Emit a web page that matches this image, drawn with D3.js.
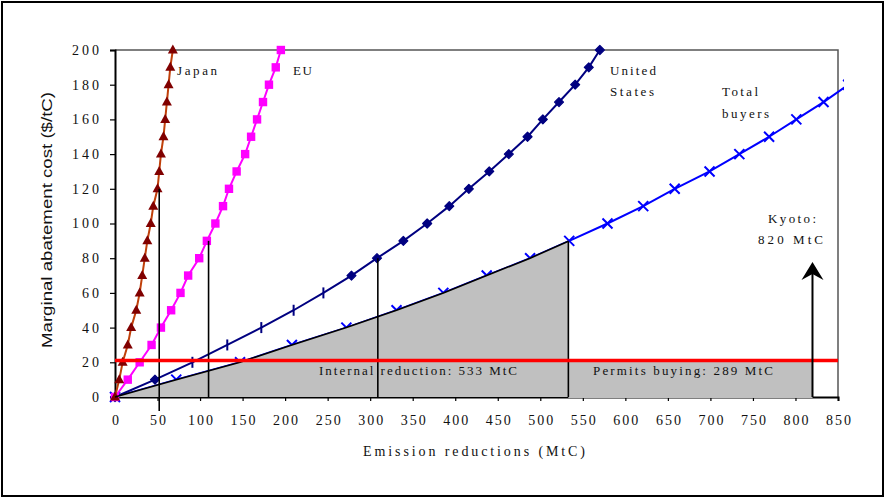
<!DOCTYPE html>
<html>
<head>
<meta charset="utf-8">
<script src="https://cdn.jsdelivr.net/npm/d3@7"></script>
<style>
  html, body { margin: 0; padding: 0; background: #fff; }
  svg { display: block; }
  .serif { font-family: "Liberation Serif", "Times New Roman", serif; fill: #111; }
</style>
</head>
<body>
<svg id="chart" width="885" height="503"></svg>
<script>
// Marginal abatement cost curves ($/tC) against emission reductions (MtC)
const costs = [0, 10, 20, 30, 40, 50, 60, 70, 80, 90, 100, 110, 120, 130, 140, 150, 160, 170, 180, 190, 200];
const japanMtC = [0, 5, 9, 15, 19, 25, 29, 32, 35, 38, 42, 45, 50, 52, 54, 57, 59, 61, 63, 65, 68];
const euMtC = [0, 15, 29, 43, 54, 66, 77, 86, 99, 108, 118, 127, 134, 143, 153, 160, 167, 174, 181, 189, 195];
const usMtC = [0, 47, 91, 132, 172, 210, 245, 278, 308, 339, 367, 393, 416, 440, 463, 485, 503, 522, 541, 557, 570];
const totalCosts = [0, 10, 20, 30, 40, 50, 60, 70, 80, 90, 100, 110, 120, 130, 140, 150, 160, 170, 180];
const totalMtC = [0, 72, 147, 208, 272, 331, 386, 437, 488, 534, 579, 621, 658, 699, 734, 769, 801, 833, 862];

// National reduction requirements without trading
const targetRegions = ["Japan", "EU", "United States"];
const targetMtC = [52, 110, 309];
const targetCost = [120, 90, 80];

// Kyoto commitment of buyers and permit market outcome
const kyotoMtC = 820;
const internalMtC = 533;
const permitsMtC = 289;
const permitPrice = 21;

const xTicks = d3.range(0, 851, 50);
const yTicks = d3.range(0, 201, 20);

const svg = d3.select("#chart");
const x = d3.scaleLinear().domain([0, 850]).range([115, 838]);
const y = d3.scaleLinear().domain([0, 200]).range([397, 50]);

// outer frame
svg.append("rect").attr("x", 2).attr("y", 2).attr("width", 881).attr("height", 494)
  .attr("fill", "none").attr("stroke", "#000").attr("stroke-width", 2);

// plot frame (top and right)
svg.append("path")
  .attr("d", `M${x(0)},${y(200)}H${x(850)}V${y(0)}`)
  .attr("fill", "none").attr("stroke", "#555").attr("stroke-width", 1.5);

// axes
const xAxis = svg.append("g").attr("transform", `translate(0,${y(0)})`)
  .call(d3.axisBottom(x).tickValues(xTicks).tickSize(4).tickPadding(14).tickFormat(d3.format("d")));
const yAxis = svg.append("g").attr("transform", `translate(${x(0)},0)`)
  .call(d3.axisLeft(y).tickValues(yTicks).tickSize(5).tickPadding(8).tickFormat(d3.format("d")));
[xAxis, yAxis].forEach(g => {
  g.select(".domain").attr("stroke", "#000").attr("stroke-width", 2);
  g.selectAll(".tick line").attr("stroke", "#000").attr("stroke-width", 1.2);
  g.selectAll(".tick text").attr("class", "serif")
    .style("font-size", "14px").style("fill", "#111");
});
xAxis.selectAll(".tick text").style("letter-spacing", "2px").attr("dx", "1px");
yAxis.selectAll(".tick text").style("letter-spacing", "3px");

const line = d3.line().x(d => x(d[0])).y(d => y(d[1]));
const zip = (xs, cs) => xs.map((v, i) => [v, cs[i]]);

// clip series to plot area (slight overshoot on the right like the original drawing)
svg.append("clipPath").attr("id", "plotclip").append("rect")
  .attr("x", x(0) - 6).attr("y", y(200) - 6).attr("width", x(850) - x(0) + 12).attr("height", y(0) - y(200) + 12);

const series = svg.append("g").attr("clip-path", "url(#plotclip)");

// Total buyers
const totalPts = zip(totalMtC, totalCosts);
series.append("path").attr("d", line(totalPts)).attr("fill", "none")
  .attr("stroke", "#0000ff").attr("stroke-width", 2);
series.selectAll(".tx").data(totalPts).join("path")
  .attr("transform", d => `translate(${x(d[0])},${y(d[1])})`)
  .attr("d", "M-5,-5L5,5M-5,5L5,-5")
  .attr("stroke", "#0000ff").attr("stroke-width", 2).attr("fill", "none");

// gray area: internal reduction under total curve, plus permit purchase block
const interpCost = mtc => {
  for (let i = 1; i < totalMtC.length; i++) {
    if (mtc <= totalMtC[i]) {
      const t = (mtc - totalMtC[i - 1]) / (totalMtC[i] - totalMtC[i - 1]);
      return totalCosts[i - 1] + t * (totalCosts[i] - totalCosts[i - 1]);
    }
  }
  return totalCosts[totalCosts.length - 1];
};
const internalCost = interpCost(internalMtC);
const areaPts = totalPts.filter(d => d[0] < internalMtC).concat([[internalMtC, internalCost]]);
svg.append("path")
  .attr("d", d3.area().x(d => x(d[0])).y0(y(0)).y1(d => y(d[1]))(areaPts))
  .attr("fill", "#c0c0c0");
svg.append("rect")
  .attr("x", x(internalMtC)).attr("y", y(permitPrice))
  .attr("width", x(kyotoMtC) - x(internalMtC)).attr("height", y(0) - y(permitPrice) + 1)
  .attr("fill", "#c0c0c0");
svg.append("path").attr("d", line(areaPts)).attr("fill", "none")
  .attr("stroke", "#000").attr("stroke-width", 1.6);
svg.append("line")
  .attr("x1", x(internalMtC)).attr("x2", x(internalMtC))
  .attr("y1", y(0)).attr("y2", y(internalCost))
  .attr("stroke", "#000").attr("stroke-width", 1.6);

// United States
const usPts = zip(usMtC, costs);
series.append("path").attr("d", line(usPts)).attr("fill", "none")
  .attr("stroke", "#000080").attr("stroke-width", 2);
series.selectAll(".us").data(usPts).join("path")
  .attr("transform", d => `translate(${x(d[0])},${y(d[1])})`)
  .attr("d", d => (d[1] >= 20 && d[1] <= 60) ? "M0,-5.5V5.5" : "M0,-4.5L4.5,0L0,4.5L-4.5,0Z")
  .attr("fill", "#000080").attr("stroke", "#000080")
  .attr("stroke-width", d => (d[1] >= 20 && d[1] <= 60) ? 2 : 1.2)
  .attr("stroke-linejoin", "round");

// EU
const euPts = zip(euMtC, costs);
series.append("path").attr("d", line(euPts)).attr("fill", "none")
  .attr("stroke", "#ff00ff").attr("stroke-width", 2);
series.selectAll(".eu").data(euPts).join("rect")
  .attr("x", d => x(d[0]) - 4.2).attr("y", d => y(d[1]) - 4.2)
  .attr("width", 8.4).attr("height", 8.4).attr("fill", "#ff00ff");

// Japan
const jpPts = zip(japanMtC, costs);
series.append("path").attr("d", line(jpPts)).attr("fill", "none")
  .attr("stroke", "#c0400a").attr("stroke-width", 2);
series.selectAll(".jp").data(jpPts).join("path")
  .attr("transform", d => `translate(${x(d[0])},${y(d[1])})`)
  .attr("d", "M0,-5.5L5,3.5L-5,3.5Z")
  .attr("fill", "#800000");

// national requirement markers
targetRegions.forEach((r, i) => {
  svg.append("line")
    .attr("x1", x(targetMtC[i])).attr("x2", x(targetMtC[i]))
    .attr("y1", i === 0 ? y(0) + 14 : y(0)).attr("y2", y(targetCost[i]))
    .attr("stroke", "#000").attr("stroke-width", 1.6);
});

// permit price line
svg.append("line")
  .attr("x1", x(0)).attr("x2", x(850))
  .attr("y1", y(permitPrice)).attr("y2", y(permitPrice))
  .attr("stroke", "#ff0000").attr("stroke-width", 3.5);

// Kyoto arrow
const ax = x(kyotoMtC), tipY = 262;
svg.append("line").attr("x1", ax).attr("x2", ax).attr("y1", y(0)).attr("y2", tipY + 10)
  .attr("stroke", "#000").attr("stroke-width", 2);
svg.append("path")
  .attr("d", `M${ax},${tipY}L${ax + 11},${tipY + 18}L${ax},${tipY + 12}L${ax - 11},${tipY + 18}Z`)
  .attr("fill", "#000");

// text labels
function label(txt, lx, ly, width, anchor = "start") {
  svg.append("text").attr("class", "serif")
    .attr("x", lx).attr("y", ly)
    .attr("text-anchor", anchor)
    .attr("textLength", width).attr("lengthAdjust", "spacing")
    .style("font-size", "13px")
    .text(txt);
}
label("Japan", 177, 75, 40);
label("EU", 293, 75, 19);
label("United", 610, 75, 46);
label("States", 610, 96, 44);
label("Total", 722, 96, 36);
label("buyers", 722, 118, 47);
label("Kyoto:", 768, 223, 48);
label(`${kyotoMtC} MtC`, 758, 244, 65);
label(`Internal reduction: ${internalMtC} MtC`, 319, 375, 198);
label(`Permits buying: ${permitsMtC} MtC`, 593, 375, 180);

// axis titles
svg.append("text").attr("class", "serif")
  .attr("x", 363).attr("y", 456)
  .attr("textLength", 222).attr("lengthAdjust", "spacing")
  .style("font-size", "14px")
  .text("Emission reductions (MtC)");

svg.append("text")
  .attr("transform", `translate(52,220) rotate(-90)`)
  .attr("text-anchor", "middle")
  .attr("textLength", 256).attr("lengthAdjust", "spacingAndGlyphs")
  .style("font-family", "'Liberation Sans', Arial, sans-serif")
  .style("font-size", "15px").style("fill", "#111")
  .text("Marginal abatement cost ($/tC)");
</script>
</body>
</html>
